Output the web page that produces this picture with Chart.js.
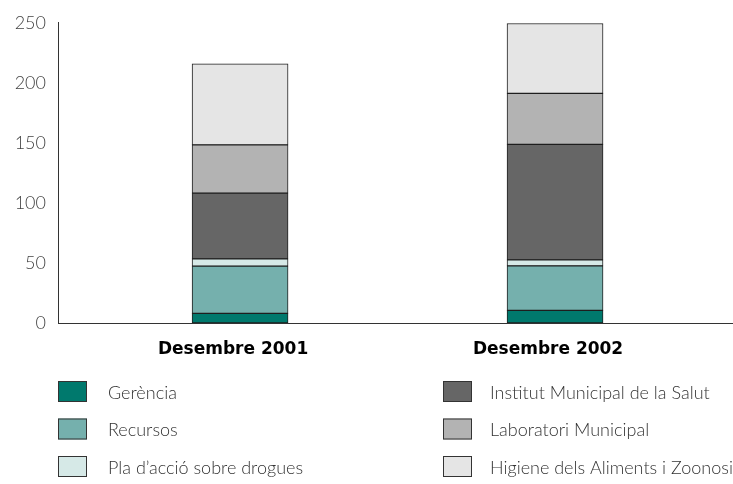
<!DOCTYPE html>
<html><head><meta charset="utf-8">
<script src="https://cdn.jsdelivr.net/npm/chart.js@4/dist/chart.umd.min.js"></script>
<style>html,body{margin:0;padding:0;background:#fff}#wrap{width:733px;height:484px;position:relative}</style>
</head><body><div id="wrap"><canvas id="c"></canvas></div>
<script>
// ---- data ----
const categories = ['Desembre 2001', 'Desembre 2002'];
const seriesNames = ['Gerència', 'Recursos', 'Pla d’acció sobre drogues', 'Institut Municipal de la Salut', 'Laboratori Municipal', 'Higiene dels Aliments i Zoonosi'];
const gerencia   = [8, 10.5];
const recursos   = [39.3, 37.1];
const plaAccio   = [6.1, 5];
const institut   = [54.7, 96.2];
const laboratori = [40.2, 42.4];
const higiene    = [67.6, 58.2];
const yTicks = [0, 50, 100, 150, 200, 250];

// ---- styles ----
const seriesValues = [gerencia, recursos, plaAccio, institut, laboratori, higiene];
const colors = ['#00796d', '#75b0ad', '#d6e9e7', '#666666', '#b3b3b3', '#e5e5e5'];
const FONT = 'Lato, "Open Sans", sans-serif';

const datasets = seriesNames.map((name, s) => ({
  label: name,
  data: seriesValues[s].map((v, i) => ({ x: i + 1, y: v })),
  backgroundColor: colors[s],
  borderColor: '#1e1e1e',
  borderWidth: 1,
  borderSkipped: false,
  barThickness: 96
}));

const legendPlugin = {
  id: 'colLegend',
  afterDraw(chart) {
    const ctx = chart.ctx;
    const cols = [58, 443];
    const rows = [381, 418.5, 456];
    const textOff = [50, 47];
    ctx.save();
    chart.data.datasets.forEach((ds, i) => {
      const c = Math.floor(i / 3), r = i % 3;
      const x = cols[c], y = rows[r];
      ctx.fillStyle = ds.backgroundColor;
      ctx.fillRect(x, y, 29, 21);
      ctx.strokeStyle = '#333';
      ctx.lineWidth = 1;
      ctx.strokeRect(x + 0.5, y + 0.5, 28, 20);
      ctx.fillStyle = '#333';
      ctx.font = '300 18px ' + FONT;
      ctx.textBaseline = 'middle';
      ctx.textAlign = 'left';
      ctx.fillText(ds.label, x + textOff[c], y + 12);
    });
    ctx.restore();
  }
};

new Chart(document.getElementById('c'), {
  type: 'bar',
  data: { datasets },
  options: {
    responsive: true,
    maintainAspectRatio: false,
    animation: false,
    layout: { padding: { top: 16, right: 0, bottom: 122, left: 0 } },
    plugins: { legend: { display: false }, tooltip: { enabled: false } },
    scales: {
      x: {
        type: 'linear',
        stacked: true,
        offset: false,
        min: 0.422,
        max: 2.565,
        bounds: 'data',
        grid: { display: false, drawTicks: false, offset: false },
        border: { display: true, color: '#333', width: 1 },
        afterBuildTicks(scale) { scale.ticks = categories.map((c, i) => ({ value: i + 1 })); },
        afterFit(scale) { scale.height = 39; },
        ticks: {
          callback: (v) => categories[v - 1],
          font: { family: '"DejaVu Sans", sans-serif', size: 17, weight: 'bold' },
          color: '#000',
          padding: 16,
          labelOffset: -7,
          maxRotation: 0
        }
      },
      y: {
        stacked: true,
        min: 0,
        max: 250,
        grid: { display: false, drawTicks: false },
        border: { display: true, color: '#333', width: 1 },
        afterBuildTicks(scale) { scale.ticks = yTicks.map(v => ({ value: v })); },
        afterFit(scale) { scale.width = 58; },
        ticks: {
          font: { family: FONT, size: 18, weight: '300' },
          color: '#444',
          padding: 12
        }
      }
    }
  },
  plugins: [legendPlugin]
});
</script>
</body></html>
